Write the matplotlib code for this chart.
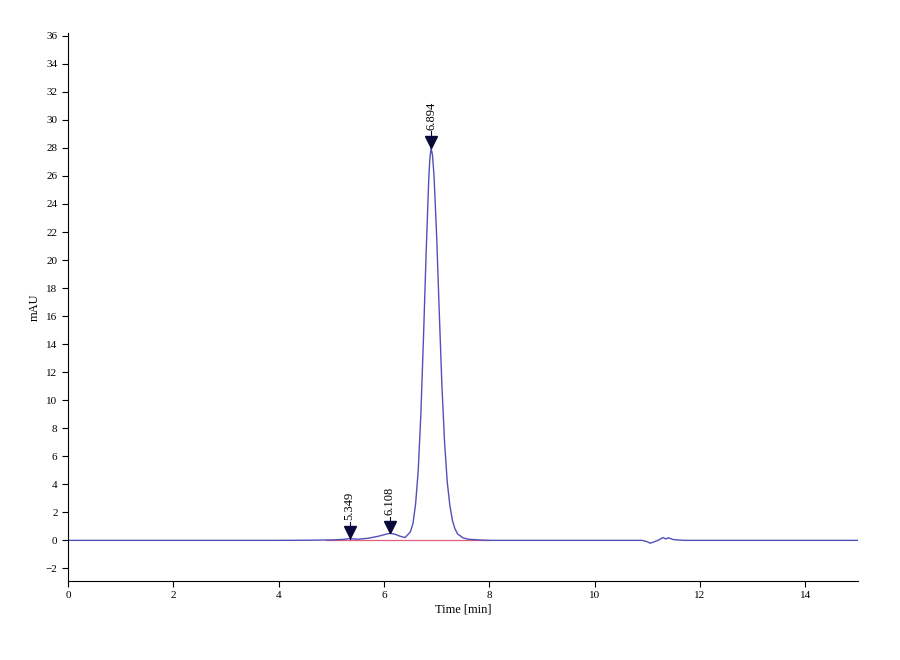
import matplotlib
matplotlib.use("Agg")
import matplotlib.pyplot as plt

time_min = [0.0, 2.0, 4.0, 4.6, 5.0, 5.2, 5.349, 5.5, 5.7, 5.9, 6.0, 6.108, 6.2, 6.3, 6.4, 6.5,
            6.55, 6.6, 6.65, 6.7, 6.75, 6.8, 6.85, 6.87, 6.894, 6.92, 6.95, 7.0, 7.05, 7.1,
            7.15, 7.2, 7.25, 7.3, 7.35, 7.4, 7.5, 7.6, 7.8, 8.0, 9.0, 10.0, 10.9, 11.0, 11.05,
            11.1, 11.2, 11.3, 11.35, 11.4, 11.5, 11.7, 12.0, 13.0, 14.0, 15.0]
signal_mau = [0.0, 0.0, 0.0, 0.01, 0.03, 0.06, 0.12, 0.08, 0.15, 0.3, 0.4, 0.5, 0.45, 0.3, 0.2, 0.6,
              1.2, 2.6, 5.0, 9.0, 14.5, 20.5, 25.8, 27.2, 28.0, 27.5, 26.0, 21.7, 16.2, 11.0,
              7.0, 4.2, 2.5, 1.4, 0.8, 0.45, 0.18, 0.08, 0.03, 0.0, 0.0, 0.0, 0.0, -0.1, -0.2,
              -0.15, 0.0, 0.2, 0.1, 0.18, 0.05, 0.0, 0.0, 0.0, 0.0, 0.0]

peak_times = [5.349, 6.108, 6.894]
peak_heights = [0.12, 0.5, 28.0]
peak_labels = ["5.349", "6.108", "6.894"]

baseline_t = [4.9, 8.0]
baseline_y = [0.0, 0.0]

plt.rcParams['font.family'] = ['Liberation Serif', 'DejaVu Serif']
fig = plt.figure(figsize=(9, 6.6), dpi=100)
ax = fig.add_axes([68/900, 1-581/660, (858-68)/900, (581-33)/660])
ax.plot(baseline_t, baseline_y, color="#e06080", lw=0.9)
ax.plot(time_min, signal_mau, color="#5050b8", lw=1.0)
for t, h, lab in zip(peak_times, peak_heights, peak_labels):
    ax.plot([t], [h + 0.45], marker="v", color="#0a0a3a", markersize=9)
    ax.plot([t, t], [h, h + 1.2], color="#0a0a3a", lw=0.8)
    ax.text(t, h + 1.3, lab, rotation=90, ha="center", va="bottom", fontsize=9)
ax.set_xlim(0, 15)
ax.set_ylim(-2.9, 36.2)
ax.set_xticks(range(0, 15, 2))
ax.set_yticks(range(-2, 37, 2))
ax.spines['top'].set_visible(False)
ax.spines['right'].set_visible(False)
ax.tick_params(labelsize=8, length=4)
ax.set_xlabel("Time [min]", fontsize=9, labelpad=2)
ax.set_ylabel("mAU", fontsize=9)
fig.savefig("out.png", dpi=100)
